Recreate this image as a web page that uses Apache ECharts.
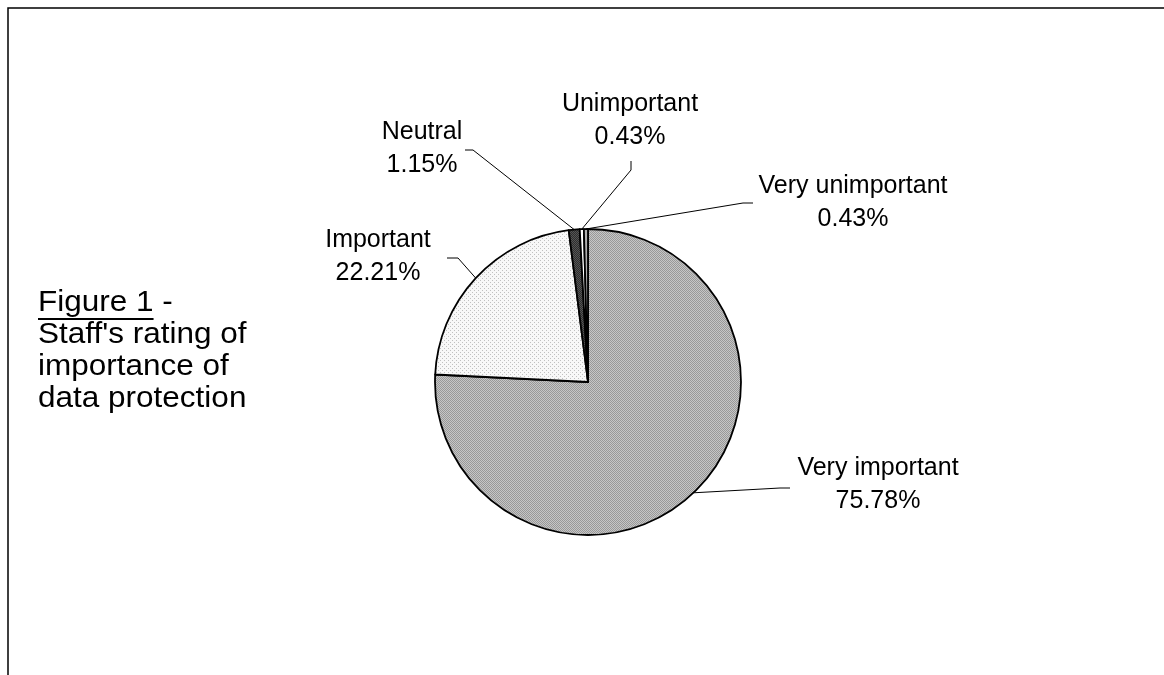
<!DOCTYPE html>
<html>
<head>
<meta charset="utf-8">
<title>Staff's rating of importance of data protection</title>
<script src="https://cdn.jsdelivr.net/npm/echarts@6/dist/echarts.min.js"></script>
<style>
  html, body { margin: 0; padding: 0; background: #fff; }
  #chart { width: 1164px; height: 675px; }
</style>
</head>
<body>
<div id="chart"></div>
<script>
// Survey answers, clockwise from 12 o'clock
const categories = ['Very important', 'Important', 'Neutral', 'Unimportant', 'Very unimportant'];
const shares = [75.78, 22.21, 1.15, 0.43, 0.43];

// Caption shown to the left of the pie
const captionLines = ['Figure 1 -', "Staff's rating of", 'importance of', 'data protection'];
const captionUnderlined = 'Figure 1';

// Where each callout sits: label centre plus the bend and end of its leader line
const callouts = [
  { at: [878, 485], bend: [780, 488], end: [790, 488] },
  { at: [378, 257], bend: [458, 258], end: [447, 258] },
  { at: [422, 149], bend: [473, 150], end: [465, 150] },
  { at: [630, 121], bend: [631, 170], end: [631, 161] },
  { at: [853, 203], bend: [743, 203], end: [753, 203] }
];

// Small stippled tiles used as slice fills
function stipple(base, dot, step) {
  const c = document.createElement('canvas');
  c.width = step; c.height = step;
  const g = c.getContext('2d');
  g.fillStyle = base; g.fillRect(0, 0, step, step);
  g.fillStyle = dot;
  g.fillRect(0, 0, 1, 1);
  g.fillRect(step / 2, step / 2, 1, 1);
  return { image: c, repeat: 'repeat' };
}
const fills = [
  stipple('#c6c6c6', '#989898', 2),
  stipple('#f8f8f8', '#c0c0c0', 4),
  stipple('#2e2e2e', '#555555', 2),
  '#ffffff',
  '#b0b0b0'
];

const FONT = '"Liberation Sans", Arial, sans-serif';
const chart = echarts.init(document.getElementById('chart'), null, { renderer: 'canvas' });

// caption metrics: baselines 32px apart, glyphs slightly widened
const captionX = 38, captionBaseline = 313, captionStep = 32, captionSize = 30, captionStretch = 1.05;

const probe = document.createElement('canvas').getContext('2d');
probe.font = captionSize + 'px ' + FONT;
const ulWidth = probe.measureText(captionUnderlined).width * captionStretch;

const graphics = [
  // frame (top and left edges)
  { type: 'polyline', shape: { points: [[8, 675], [8, 8], [1164, 8]] },
    style: { stroke: '#000', lineWidth: 1.5, fill: null }, silent: true },
  // underline beneath "Figure 1"
  { type: 'line',
    shape: { x1: captionX, y1: captionBaseline + 6, x2: captionX + ulWidth, y2: captionBaseline + 6 },
    style: { stroke: '#000', lineWidth: 2 }, silent: true }
];
captionLines.forEach(function (line, i) {
  graphics.push({
    type: 'text',
    x: captionX,
    y: captionBaseline + i * captionStep - captionSize * 0.35,
    scaleX: captionStretch,
    style: { text: line, font: captionSize + 'px ' + FONT, fill: '#000', verticalAlign: 'middle', align: 'left' },
    silent: true
  });
});

chart.setOption({
  backgroundColor: '#ffffff',
  animation: false,
  graphic: graphics,
  series: [{
    type: 'pie',
    center: [588, 382],
    radius: 153,
    startAngle: 90,
    clockwise: true,
    avoidLabelOverlap: false,
    minShowLabelAngle: 0,
    data: categories.map(function (name, i) {
      return { name: name, value: shares[i], itemStyle: { color: fills[i] } };
    }),
    itemStyle: { borderColor: '#000', borderWidth: 1.8 },
    emphasis: { disabled: true },
    label: {
      show: true,
      position: 'outside',
      color: '#000',
      fontFamily: FONT,
      fontSize: 25,
      lineHeight: 33,
      align: 'center',
      formatter: function (p) { return p.name + '\n' + p.value.toFixed(2) + '%'; }
    },
    labelLine: { show: true, lineStyle: { color: '#000', width: 1 } },
    labelLayout: function (p) {
      const c = callouts[p.dataIndex];
      const start = p.labelLinePoints ? p.labelLinePoints[0] : c.bend;
      return {
        x: c.at[0], y: c.at[1], align: 'center', verticalAlign: 'middle',
        labelLinePoints: [start, c.bend, c.end]
      };
    }
  }]
});
</script>
</body>
</html>
